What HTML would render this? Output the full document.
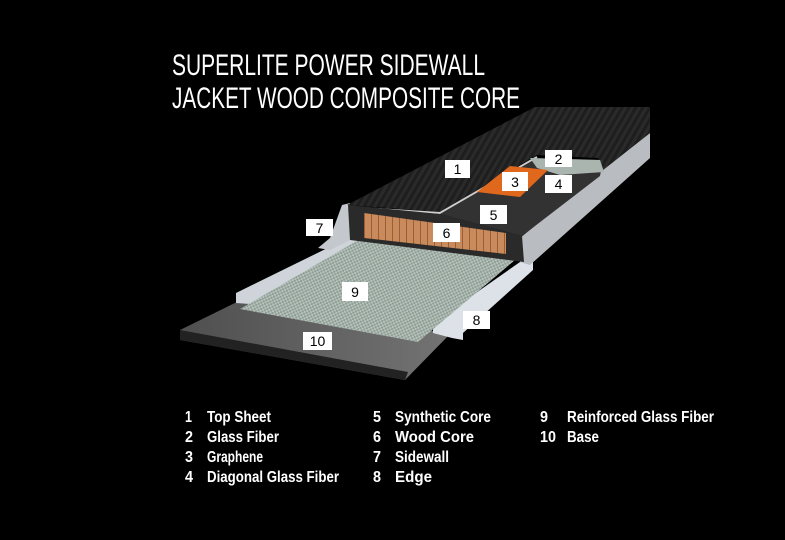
<!DOCTYPE html>
<html><head><meta charset="utf-8"><style>
html,body{margin:0;padding:0;background:#000;}
svg{display:block}
</style></head><body>
<svg width="785" height="540" viewBox="0 0 785 540" xmlns="http://www.w3.org/2000/svg">
<defs>
<pattern id="tex" width="6" height="6" patternUnits="userSpaceOnUse" patternTransform="rotate(30)">
<rect width="6" height="6" fill="#1e1e1e"/><rect width="3" height="6" fill="#2a2a2a"/></pattern>
<pattern id="glass" width="4" height="4" patternUnits="userSpaceOnUse" patternTransform="rotate(20)">
<rect width="4" height="4" fill="#8f9c95"/><rect width="2" height="2" fill="#b7c4bc"/><rect x="2" y="2" width="2" height="2" fill="#b7c4bc"/></pattern>
<pattern id="wood" width="7" height="10" patternUnits="userSpaceOnUse">
<rect width="7" height="10" fill="#c98a5c"/><rect width="1" height="10" fill="#9a5f38"/></pattern>
<linearGradient id="base" x1="0" y1="0" x2="1" y2="0"><stop offset="0" stop-color="#4f4f4f"/><stop offset="1" stop-color="#737373"/></linearGradient>
</defs>
<rect width="785" height="540" fill="#000"/>
<g font-family="Liberation Sans, sans-serif" fill="#fff" font-size="30">
<text x="172" y="75" textLength="313" lengthAdjust="spacingAndGlyphs">SUPERLITE POWER SIDEWALL</text>
<text x="172" y="108" textLength="348" lengthAdjust="spacingAndGlyphs">JACKET WOOD COMPOSITE CORE</text>
</g>
<!-- base -->
<polygon points="180,330 245,298 450,334 405,380 180,340" fill="url(#base)"/>
<polygon points="180,330 180,340 405,380 408,372" fill="#222"/>
<!-- edges -->
<polygon points="236,293 352,236 364,238 250,304 236,303" fill="#cfd4da"/>
<polygon points="433,323 520,262 533,262 533,270 463,333 463,340 452,338 433,333" fill="#dde2e8"/>
<!-- glass fiber 9 -->
<polygon points="240,309 360,239 515,260 418,342" fill="url(#glass)"/>
<!-- right sidewall -->
<polygon points="603,170 650,133 650,158 530,265 520,262 520,238" fill="#b9bcc0"/>
<!-- left sidewall -->
<polygon points="318,248 330,238 342,205 350,203 350,240 330,250" fill="#c4c7cb"/>
<!-- top sheet -->
<polygon points="347,205 535,107 650,107 650,133 603,170 598,158 537,155 440,212" fill="url(#tex)"/>
<polyline points="347,207 440,213 537,157" fill="none" stroke="#cfcfcf" stroke-width="2"/>
<!-- core top -->
<polygon points="440,214 537,158 603,160 600,176 522,236" fill="#323232"/>
<!-- glass fiber 2 -->
<polygon points="530,158 600,160 604,172 560,175 537,168" fill="#aab5b0"/>
<!-- graphene -->
<polygon points="477,192 510,166 548,170 520,197" fill="#e0681c"/>
<!-- core front -->
<polygon points="348,205 440,214 522,236 524,262 350,240" fill="#2a2a2a"/>
<polygon points="364,213 506,233 506,254 364,238" fill="url(#wood)"/>
<!-- labels -->
<g font-family="Liberation Sans, sans-serif" font-size="14" text-anchor="middle" fill="#000">
<rect x="445" y="160" width="25" height="18" fill="#fff"/><text x="457.5" y="174">1</text>
<rect x="545" y="150" width="27" height="17" fill="#fff"/><text x="558.5" y="164">2</text>
<rect x="502" y="172" width="26" height="19" fill="#fff"/><text x="515" y="187">3</text>
<rect x="545" y="175" width="27" height="18" fill="#fff"/><text x="558.5" y="189">4</text>
<rect x="480" y="205" width="27" height="19" fill="#fff"/><text x="493.5" y="220">5</text>
<rect x="433" y="223" width="27" height="19" fill="#fff"/><text x="446.5" y="238">6</text>
<rect x="306" y="219" width="27" height="17" fill="#fff"/><text x="319.5" y="233">7</text>
<rect x="463" y="311" width="27" height="18" fill="#fff"/><text x="476.5" y="325">8</text>
<rect x="342" y="282" width="26" height="19" fill="#fff"/><text x="355" y="297">9</text>
<rect x="303" y="332" width="29" height="18" fill="#fff"/><text x="317.5" y="346">10</text>
</g>
<!-- legend -->
<g font-family="Liberation Sans, sans-serif" font-size="16" font-weight="bold" fill="#fff">
<text x="185" y="422" textLength="7" lengthAdjust="spacingAndGlyphs">1</text><text x="207" y="422" textLength="64" lengthAdjust="spacingAndGlyphs">Top Sheet</text>
<text x="185" y="442" textLength="8" lengthAdjust="spacingAndGlyphs">2</text><text x="207" y="442" textLength="72" lengthAdjust="spacingAndGlyphs">Glass Fiber</text>
<text x="185" y="462" textLength="8" lengthAdjust="spacingAndGlyphs">3</text><text x="207" y="462" textLength="56" lengthAdjust="spacingAndGlyphs">Graphene</text>
<text x="185" y="482" textLength="8" lengthAdjust="spacingAndGlyphs">4</text><text x="207" y="482" textLength="132" lengthAdjust="spacingAndGlyphs">Diagonal Glass Fiber</text>
<text x="373" y="422" textLength="8" lengthAdjust="spacingAndGlyphs">5</text><text x="395" y="422" textLength="96" lengthAdjust="spacingAndGlyphs">Synthetic Core</text>
<text x="373" y="442" textLength="8" lengthAdjust="spacingAndGlyphs">6</text><text x="395" y="442" textLength="79" lengthAdjust="spacingAndGlyphs">Wood Core</text>
<text x="373" y="462" textLength="8" lengthAdjust="spacingAndGlyphs">7</text><text x="395" y="462" textLength="54" lengthAdjust="spacingAndGlyphs">Sidewall</text>
<text x="373" y="482" textLength="8" lengthAdjust="spacingAndGlyphs">8</text><text x="395" y="482" textLength="37" lengthAdjust="spacingAndGlyphs">Edge</text>
<text x="540" y="422" textLength="8" lengthAdjust="spacingAndGlyphs">9</text><text x="567" y="422" textLength="147" lengthAdjust="spacingAndGlyphs">Reinforced Glass Fiber</text>
<text x="540" y="442" textLength="16" lengthAdjust="spacingAndGlyphs">10</text><text x="567" y="442" textLength="32" lengthAdjust="spacingAndGlyphs">Base</text>
</g>
</svg>
</body></html>
